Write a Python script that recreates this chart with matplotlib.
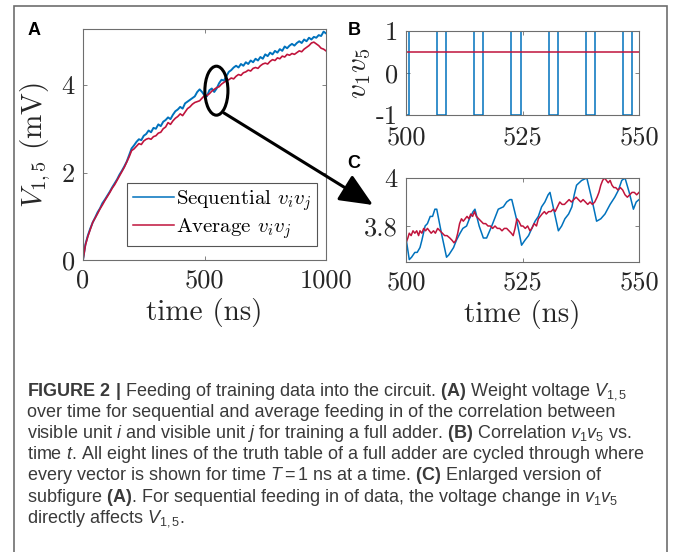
import numpy as np
import matplotlib
matplotlib.use('Agg')
import matplotlib.pyplot as plt
from matplotlib.patches import Ellipse, FancyArrowPatch, Rectangle

plt.rcParams['mathtext.fontset'] = 'cm'
plt.rcParams['mathtext.rm'] = 'Liberation Sans'
plt.rcParams['mathtext.it'] = 'Liberation Sans:italic'
plt.rcParams['mathtext.bf'] = 'Liberation Sans:bold'
plt.rcParams['axes.unicode_minus'] = False

BLUE = '#0072BD'
RED = '#C0143C'

# ---- panel A: V_1,5 over 0..1000 ns (sampled every 10 ns)
a_time = list(range(0, 1001, 10))
a_seq = [0.00, 0.36, 0.56, 0.72, 0.86, 0.97, 1.09, 1.18, 1.30, 1.38,
         1.47, 1.56, 1.66, 1.75, 1.84, 1.95, 2.04, 2.14, 2.25, 2.40,
         2.55, 2.62, 2.70, 2.76, 2.74, 2.84, 2.88, 2.96, 2.92, 3.02,
         3.00, 3.10, 3.06, 3.16, 3.20, 3.26, 3.22, 3.32, 3.40, 3.44,
         3.50, 3.46, 3.58, 3.62, 3.66, 3.70, 3.74, 3.84, 3.90, 3.84,
         3.76, 3.74, 3.88, 3.92, 3.84, 3.92, 4.04, 4.12, 4.10, 4.20,
         4.30, 4.34, 4.40, 4.44, 4.40, 4.48, 4.44, 4.52, 4.48, 4.56,
         4.52, 4.60, 4.56, 4.64, 4.60, 4.70, 4.66, 4.74, 4.70, 4.78,
         4.74, 4.82, 4.78, 4.88, 4.84, 4.90, 4.94, 4.90, 4.96, 5.00,
         4.96, 5.04, 5.00, 5.08, 5.04, 5.10, 5.08, 5.14, 5.12, 5.22,
         5.18]
a_avg = [0.00, 0.34, 0.54, 0.70, 0.86, 0.96, 1.06, 1.17, 1.26, 1.36,
         1.45, 1.54, 1.64, 1.72, 1.82, 1.92, 2.02, 2.12, 2.24, 2.36,
         2.50, 2.54, 2.60, 2.66, 2.64, 2.72, 2.76, 2.78, 2.76, 2.82,
         2.84, 2.90, 2.92, 3.00, 3.04, 3.14, 3.10, 3.18, 3.24, 3.28,
         3.34, 3.30, 3.38, 3.46, 3.50, 3.56, 3.60, 3.62, 3.64, 3.70,
         3.76, 3.76, 3.80, 3.86, 3.90, 3.94, 3.96, 4.02, 4.06, 4.10,
         4.12, 4.16, 4.14, 4.20, 4.24, 4.22, 4.28, 4.30, 4.34, 4.32,
         4.38, 4.40, 4.38, 4.44, 4.48, 4.50, 4.48, 4.54, 4.58, 4.56,
         4.62, 4.60, 4.66, 4.64, 4.70, 4.68, 4.72, 4.70, 4.74, 4.78,
         4.76, 4.82, 4.86, 4.90, 4.96, 4.98, 4.94, 4.90, 4.84, 4.82,
         4.78]

# ---- panel B: v1*v5, one value per 1 ns truth-table line
b_start = 499.6
b_vals = [-1, 1, 1, 1, 1, 1, 1, -1, -1, 1, 1, 1, 1, 1, 1, -1, -1,
          1, 1, 1, 1, 1, 1, -1, -1, 1, 1, 1, 1, 1, 1, -1, -1,
          1, 1, 1, 1, 1, 1, -1, -1, 1, 1, 1, 1, 1, 1, -1, -1, 1, 1, 1]
b_avg = 0.5

# ---- panel C: zoom of A between 500 and 550 ns
c_seq_t = [500.0, 500.7, 501.2, 501.9, 502.4, 503.0, 503.4, 504.1, 504.6, 505.2,
           505.7, 506.2, 506.6, 507.6, 508.7, 509.2, 510.2, 510.8, 511.6, 512.2,
           513.0, 513.6, 514.4, 514.8, 515.7, 516.6, 517.3, 518.4, 519.0, 519.8,
           520.9, 521.6, 522.3, 522.7, 523.7, 524.8, 525.5, 526.3, 527.0, 527.7,
           528.4, 529.1, 529.8, 530.5, 530.9, 531.8, 532.7, 533.4, 534.1, 534.9,
           535.6, 536.1, 536.6, 537.7, 538.8, 539.9, 540.9, 541.8, 542.7, 543.8,
           544.8, 545.6, 546.3, 547.0, 547.9, 548.8, 549.4, 550.0]
c_seq_v = [3.75, 3.66, 3.67, 3.69, 3.69, 3.71, 3.74, 3.80, 3.81, 3.84,
           3.84, 3.87, 3.87, 3.77, 3.67, 3.68, 3.71, 3.74, 3.77, 3.79,
           3.80, 3.83, 3.86, 3.87, 3.80, 3.75, 3.75, 3.80, 3.83, 3.87,
           3.88, 3.90, 3.91, 3.91, 3.83, 3.72, 3.74, 3.76, 3.79, 3.82,
           3.84, 3.88, 3.90, 3.93, 3.94, 3.86, 3.78, 3.80, 3.83, 3.85,
           3.88, 3.93, 3.97, 3.99, 4.00, 3.91, 3.82, 3.83, 3.85, 3.89,
           3.92, 3.95, 3.99, 4.00, 3.94, 3.87, 3.90, 3.91]
c_avg_t = [500.0, 500.4, 500.7, 501.1, 501.5, 501.9, 502.3, 502.7, 503.0, 503.4,
           503.8, 504.2, 504.6, 505.0, 505.4, 505.9, 506.3, 506.8, 507.3, 507.8,
           508.3, 508.8, 509.4, 509.9, 510.3, 510.7, 511.1, 511.5, 511.9, 512.3,
           512.7, 513.1, 513.5, 513.9, 514.3, 514.7, 515.1, 515.6, 516.1, 516.6,
           517.1, 517.6, 518.1, 518.6, 519.1, 519.6, 520.1, 520.6, 521.1, 521.6,
           522.1, 522.6, 523.0, 523.4, 523.8, 524.2, 524.7, 525.1, 525.6, 526.1,
           526.6, 527.0, 527.5, 528.0, 528.4, 528.8, 529.2, 529.7, 530.1, 530.6,
           531.1, 531.6, 532.0, 532.5, 533.0, 533.5, 534.0, 534.5, 535.0, 535.5,
           536.0, 536.5, 537.0, 537.5, 538.0, 538.5, 539.0, 539.5, 540.0, 540.5,
           541.0, 541.4, 541.8, 542.2, 542.6, 543.0, 543.4, 543.8, 544.2, 544.6,
           545.0, 545.5, 546.0, 546.5, 547.0, 547.5, 548.0, 548.5, 549.0, 549.5,
           550.0]
c_avg_v = [3.73, 3.75, 3.77, 3.76, 3.78, 3.77, 3.78, 3.76, 3.78, 3.77,
           3.79, 3.78, 3.79, 3.78, 3.77, 3.78, 3.77, 3.79, 3.78, 3.77,
           3.76, 3.76, 3.75, 3.74, 3.73, 3.74, 3.77, 3.81, 3.83, 3.82,
           3.83, 3.84, 3.83, 3.85, 3.84, 3.86, 3.84, 3.83, 3.82, 3.81,
           3.81, 3.80, 3.80, 3.79, 3.80, 3.79, 3.79, 3.78, 3.79, 3.79,
           3.78, 3.77, 3.76, 3.79, 3.83, 3.82, 3.80, 3.80, 3.79, 3.80,
           3.78, 3.79, 3.81, 3.80, 3.83, 3.84, 3.85, 3.86, 3.85, 3.86,
           3.86, 3.87, 3.86, 3.88, 3.90, 3.89, 3.89, 3.90, 3.91, 3.90,
           3.91, 3.92, 3.91, 3.90, 3.91, 3.90, 3.89, 3.90, 3.89, 3.90,
           3.92, 3.94, 3.97, 3.99, 4.00, 3.99, 3.98, 3.99, 3.97, 3.96,
           3.96, 3.95, 3.96, 3.95, 3.93, 3.92, 3.93, 3.94, 3.94, 3.93,
           3.94]

caption = [
    r'$\mathbf{FIGURE\ 2\ |}$ Feeding of training data into the circuit. $\mathbf{(A)}$ Weight voltage $V_{1,5}$',
    r'over time for sequential and average feeding in of the correlation between',
    r'visible unit $i$ and visible unit $j$ for training a full adder. $\mathbf{(B)}$ Correlation $v_1v_5$ vs.',
    r'time $t$. All eight lines of the truth table of a full adder are cycled through where',
    r'every vector is shown for time $T = 1$ ns at a time. $\mathbf{(C)}$ Enlarged version of',
    r'subfigure $\mathbf{(A)}$. For sequential feeding in of data, the voltage change in $v_1v_5$',
    r'directly affects $V_{1,5}$.',
]

W, H = 675, 552
fig = plt.figure(figsize=(W / 100, H / 100), dpi=100)

def box(l, t, r, b):
    return [l / W, 1 - b / H, (r - l) / W, (b - t) / H]

TICK = dict(fontfamily='cmr10', fontsize=19, color='#262626')
LAB = dict(fontfamily='cmr10', fontsize=21, color='#262626')

def style(ax):
    for s in ax.spines.values():
        s.set_color('#6e6e6e')
        s.set_linewidth(0.8)
    ax.tick_params(direction='in', length=3, width=0.6, color='#6e6e6e',
                   top=True, right=True, pad=6)

axA = fig.add_axes(box(83, 29, 326, 260))
axB = fig.add_axes(box(406, 31, 639, 115))
axC = fig.add_axes(box(406, 178, 639, 262))

# A
axA.plot(a_time, a_seq, color=BLUE, lw=1.4, label=r'Sequential $v_iv_j$')
axA.plot(a_time, a_avg, color=RED, lw=1.2, label=r'Average $v_iv_j$')
axA.set_xlim(0, 1000)
axA.set_ylim(0, 5.28)
axA.set_xticks([0, 500, 1000], ['0', '500', '1000'], **TICK)
axA.set_yticks([0, 2, 4], ['0', '2', '4'], **TICK)
axA.set_xlabel('time (ns)', labelpad=4, **LAB)
axA.set_ylabel(r'$V_{1,5}$ (mV)', labelpad=6, **LAB)
style(axA)
leg = axA.legend(loc='lower right', bbox_to_anchor=(0.963, 0.061), borderaxespad=0,
                 prop={'family': 'cmr10', 'size': 15}, handlelength=2.0,
                 handletextpad=0.1, fancybox=False, framealpha=1,
                 edgecolor='#555555', borderpad=0.25, labelspacing=0.15)
leg.get_frame().set_linewidth(0.8)
for ln in leg.get_lines():
    ln.set_linewidth(1.1)
axA.add_patch(Ellipse((549, 3.87), 95, 1.12, fill=False, ec='black', lw=2.2, zorder=5))

# B
b_time = b_start + np.arange(len(b_vals))
axB.step(b_time, b_vals, where='post', color=BLUE, lw=1.1)
axB.plot([500, 550], [b_avg, b_avg], color=RED, lw=1.1)
axB.set_xlim(500, 550)
axB.set_ylim(-1, 1)
axB.set_xticks([500, 525, 550], ['500', '525', '550'], **TICK)
axB.set_yticks([-1, 0, 1], ['-1', '0', '1'], **TICK)
axB.set_ylabel(r'$v_1v_5$', labelpad=2, **LAB)
style(axB)
axB.tick_params(axis='x', pad=8)

# C
axC.plot(c_seq_t, c_seq_v, color=BLUE, lw=1.1)
axC.plot(c_avg_t, c_avg_v, color=RED, lw=1.1)
axC.set_xlim(500, 550)
axC.set_ylim(3.65, 4.0)
axC.set_xticks([500, 525, 550], ['500', '525', '550'], **TICK)
axC.set_yticks([3.8, 4.0], ['3.8', '4'], **TICK)
axC.set_xlabel('time (ns)', labelpad=4, **LAB)
style(axC)

# arrow from the ellipse to panel C
arr = FancyArrowPatch((224 / W, 1 - 113 / H), (373 / W, 1 - 205 / H),
                      transform=fig.transFigure, arrowstyle='-|>,head_length=1.7,head_width=0.75',
                      mutation_scale=12, lw=2.2, color='black', shrinkA=0, shrinkB=0)
fig.add_artist(arr)

# panel letters
for lab, x, y in [('A', 28, 35), ('B', 348, 35), ('C', 347, 168)]:
    fig.text(x / W, 1 - y / H, lab, fontfamily='Liberation Sans', fontweight='bold',
             fontsize=13, color='black', va='baseline', ha='left')

# outer frame
fig.add_artist(Rectangle((14 / W, -0.05), (667 - 14) / W, 1.05 - 6 / H,
                         transform=fig.transFigure, fill=False, ec='#6e6e6e', lw=1.2))

# caption
for i, line in enumerate(caption):
    fig.text(27 / W, 1 - (396 + i * 21.1) / H, line, fontfamily='Liberation Sans',
             fontsize=13, color='#3a3a3a', va='baseline', ha='left',
             math_fontfamily='custom')

fig.savefig('out.png', dpi=100)
